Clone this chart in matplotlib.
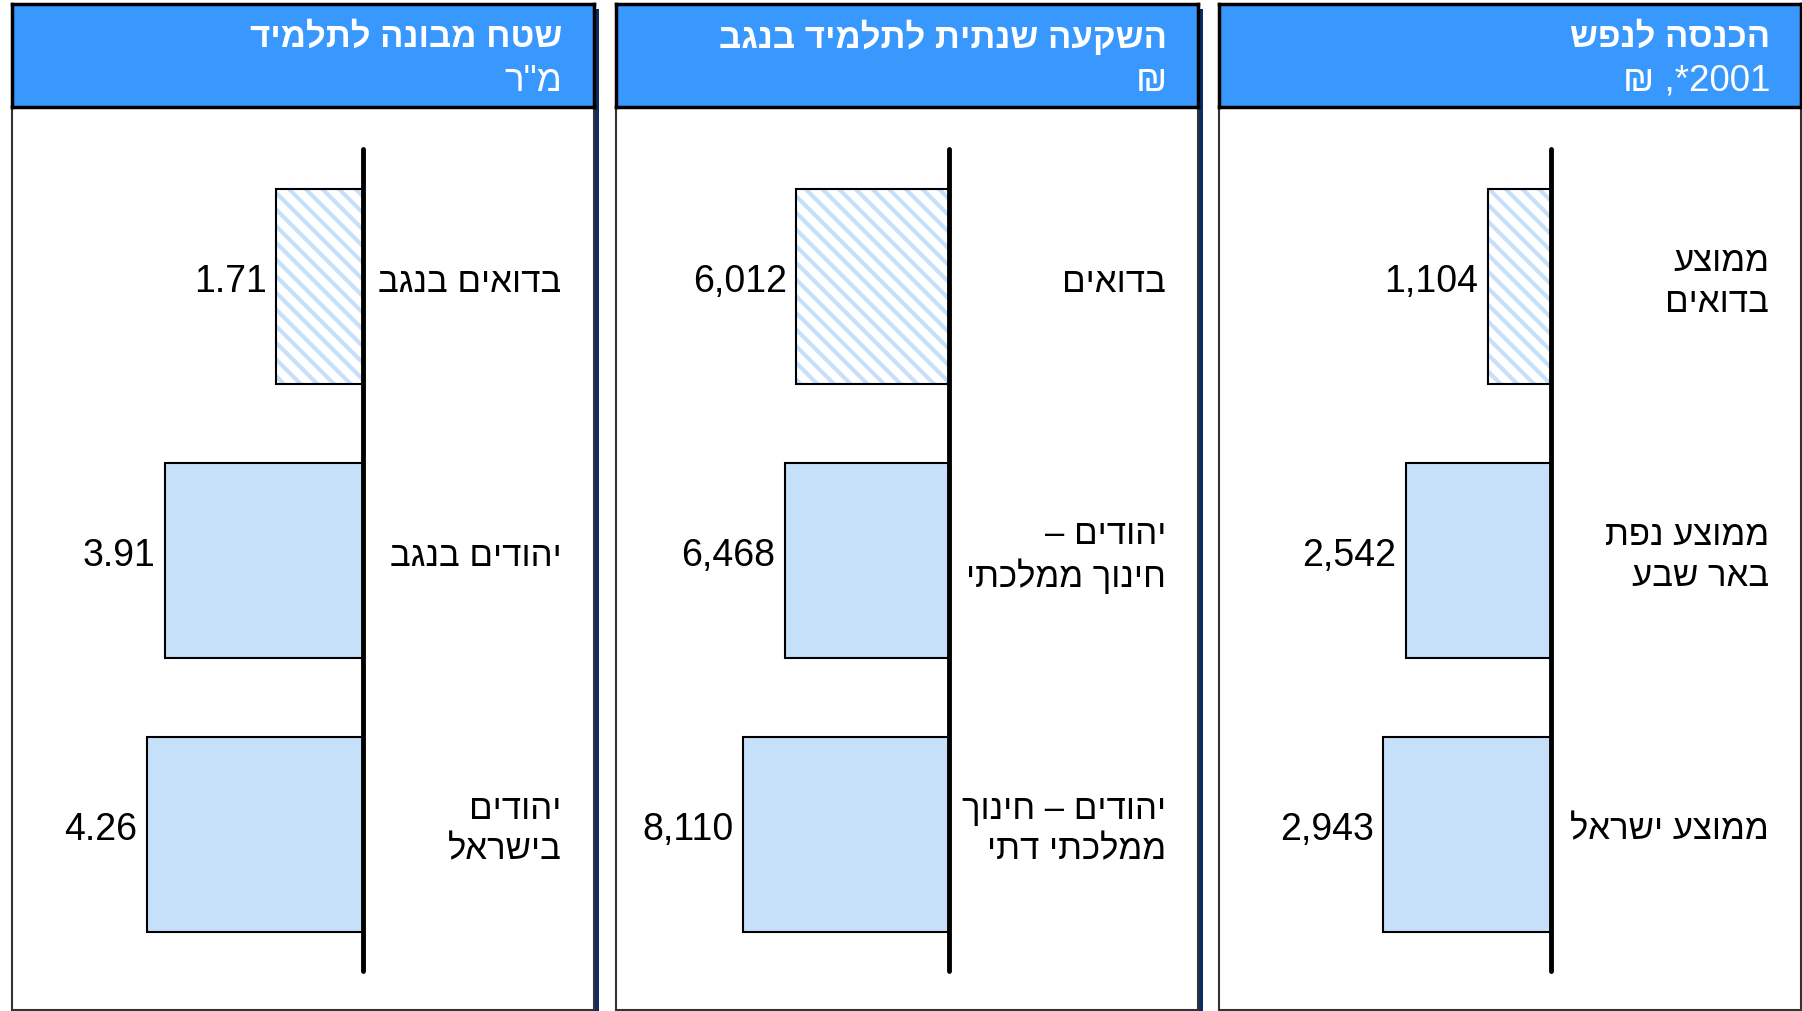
import re

import matplotlib
matplotlib.use("Agg")
import matplotlib.pyplot as plt
import matplotlib.transforms as mtransforms
from matplotlib.patches import Rectangle

plt.rcParams['font.family'] = ['Liberation Sans', 'DejaVu Sans']
plt.rcParams['hatch.linewidth'] = 3.0

# panel texts (logical order, flipped for display below)
titles = ['שטח מבונה לתלמיד', 'השקעה שנתית לתלמיד בנגב', 'הכנסה לנפש']
subtitles = ['מ"ר', '₪', '2001*, ₪']
categories = [
    ['בדואים בנגב', 'יהודים בנגב', 'יהודים\nבישראל'],
    ['בדואים', 'יהודים –\nחינוך ממלכתי', 'יהודים – חינוך\nממלכתי דתי'],
    ['ממוצע\nבדואים', 'ממוצע נפת\nבאר שבע', 'ממוצע ישראל'],
]
area_values = [1.71, 3.91, 4.26]
invest_values = [6012, 6468, 8110]
income_values = [1104, 2542, 2943]
value_formats = ['{:.2f}', '{:,}', '{:,}']

# layout in pixels
W, H = 1802, 1012
panel_x = [11.5, 616, 1219]
panel_w = 582
header_top, header_bottom = 4.6, 108
axis_px = [363, 949, 1551]
px_per_unit = [50.7, 0.02537, 0.0570]
bar_top_px, bar_step_px = 288, 274

BLUE = '#3898FD'
BAR = '#C6E0FA'
NAVY = '#0B2D63'


def vis(s):
    out = []
    for line in s.split('\n'):
        parts = re.findall(r'\d[\d.,]*|\D+', line)
        out.append(''.join(p if p[0].isdigit() else p[::-1] for p in reversed(parts)))
    return '\n'.join(out)


fig = plt.figure(figsize=(W / 100, H / 100), dpi=100)
fig.patch.set_facecolor('white')

all_values = [area_values, invest_values, income_values]
for i in range(3):
    x0 = panel_x[i]
    vals = all_values[i]

    # drop shadow
    fig.add_artist(Rectangle(((x0 + 5) / W, -0.05), panel_w / W, (H - header_top - 5) / H + 0.05,
                             transform=fig.transFigure, facecolor=NAVY, edgecolor='none', zorder=0.5))

    # body
    ax = fig.add_axes([x0 / W, 0.0005, panel_w / W, (H - header_bottom) / H])
    ax.set_zorder(1)
    ax.set_facecolor('white')
    for sp in ax.spines.values():
        sp.set_color('#333333')
        sp.set_linewidth(1.5)
    ax.set_xticks([])
    ax.set_yticks([])
    ppu = px_per_unit[i]
    ax.set_xlim((axis_px[i] - x0) / ppu, -(x0 + panel_w - axis_px[i]) / ppu)
    ytop = (header_bottom - bar_top_px) / bar_step_px
    ybot = (H - bar_top_px) / bar_step_px
    ax.set_ylim(ybot, ytop)

    ys = list(range(len(vals)))
    bh = 0.71
    ax.barh(ys[0], vals[0], height=bh, color='white', edgecolor=BAR, hatch='\\\\', linewidth=0, zorder=2)
    ax.barh(ys[0], vals[0], height=bh, facecolor='none', edgecolor='black', linewidth=1.5, zorder=2.5)
    ax.barh(ys[1:], vals[1:], height=bh, color=BAR, edgecolor='black', linewidth=1.5, zorder=2)
    ax.plot([0, 0], [-0.5, 2.5], color='black', lw=3.5, solid_capstyle='round', zorder=3)

    tr = mtransforms.blended_transform_factory(ax.transAxes, ax.transData)
    for y, v, cat in zip(ys, vals, categories[i]):
        ax.annotate(value_formats[i].format(v), (v, y), xytext=(-7, 4), textcoords='offset points',
                    ha='right', va='center', fontsize=27)
        ax.text(1 - 32 / panel_w, y - 0.02, vis(cat), transform=tr, ha='right', va='center',
                fontsize=25, linespacing=1.28)

    # header
    hx = fig.add_axes([x0 / W, (H - header_bottom) / H, panel_w / W, (header_bottom - header_top) / H])
    hx.set_zorder(2)
    hx.set_facecolor(BLUE)
    for sp in hx.spines.values():
        sp.set_color('black')
        sp.set_linewidth(2.5)
    hx.set_xticks([])
    hx.set_yticks([])
    hx.text(1 - 31 / panel_w, 0.68, vis(titles[i]), transform=hx.transAxes, ha='right', va='center',
            fontsize=25, fontweight='bold', color='white')
    hx.text(1 - 31 / panel_w, 0.26, vis(subtitles[i]), transform=hx.transAxes, ha='right', va='center',
            fontsize=26.5, color='white')

fig.savefig('out.png', dpi=100)
